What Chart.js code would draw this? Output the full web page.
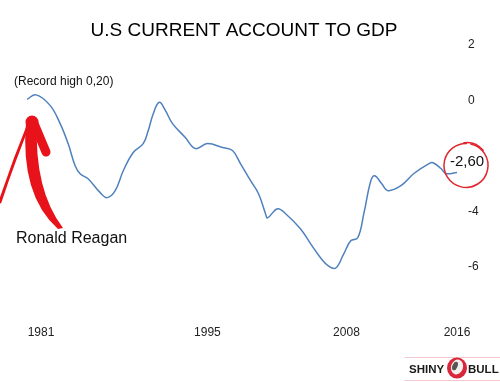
<!DOCTYPE html>
<html>
<head>
<meta charset="utf-8">
<script src="https://cdn.jsdelivr.net/npm/chart.js@4.4.1/dist/chart.umd.min.js"></script>
<style>
  html, body { margin: 0; padding: 0; background: #ffffff; }
  #wrap { width: 500px; height: 382px; position: relative; }
</style>
</head>
<body>
<div id="wrap"><canvas id="c"></canvas></div>
<script>
// ---- data ----
const years = [1979.82, 1980.58, 1981.76, 1982.60, 1983.28, 1983.87, 1984.29, 1984.96, 1985.98, 1986.57,
  1987.24, 1987.92, 1988.76, 1989.60, 1990.02, 1990.45, 1990.95, 1991.46, 1992.05, 1993.14,
  1993.99, 1995.00, 1996.27, 1997.11, 1997.78, 1998.63, 1999.30, 1999.89, 2000.06, 2000.90,
  2001.58, 2002.84, 2003.69, 2004.53, 2005.20, 2005.80, 2006.47, 2007.06, 2007.65, 2008.16,
  2008.75, 2009.08, 2009.67, 2010.18, 2011.28, 2012.37, 2013.64, 2013.98, 2014.65, 2015.07, 2016.00];
const currentAccountPctGDP = [0.04, 0.20, -0.18, -0.83, -1.56, -2.36, -2.65, -2.83, -3.33, -3.51,
  -3.26, -2.54, -1.88, -1.56, -1.09, -0.47, -0.07, -0.36, -0.83, -1.34,
  -1.74, -1.56, -1.70, -1.81, -2.28, -2.90, -3.37, -4.09, -4.24, -3.91,
  -4.09, -4.64, -5.18, -5.69, -5.98, -6.05, -5.54, -5.07, -4.96, -4.09,
  -2.90, -2.72, -3.01, -3.26, -3.08, -2.64, -2.28, -2.25, -2.46, -2.64, -2.60];
const xTickLabels = ['1981', '1995', '2008', '2016'];
const xTickAt = [1981, 1995, 2006.7, 2016];   // where each year label sits on the time axis
const yTickValues = [2, 0, -4, -6];           // y labels shown (the -2 label is covered by the callout)
const titleText = 'U.S CURRENT ACCOUNT TO GDP';
const recordLabel = '(Record high 0,20)';
const reaganLabel = 'Ronald Reagan';
const lastLabel = '-2,60';

const FONT = "'Liberation Sans', Arial, Helvetica, sans-serif";

const annotations = {
  id: 'annotations',
  afterDraw(chart) {
    const ctx = chart.ctx;
    const xs = chart.scales.x, ys = chart.scales.y;
    ctx.save();
    // Title
    ctx.fillStyle = '#000';
    ctx.font = '19px ' + FONT;
    ctx.textAlign = 'center';
    ctx.textBaseline = 'middle';
    ctx.fillText(titleText, 244, 30.5);

    // Record high label
    ctx.fillStyle = '#111';
    ctx.font = '12px ' + FONT;
    ctx.textAlign = 'left';
    ctx.fillText(recordLabel, 14, 82);
    // Ronald Reagan
    ctx.font = '16px ' + FONT;
    ctx.fillText(reaganLabel, 16, 239);

    // Red arrow (hand drawn look)
    const red = '#e8121a';
    ctx.fillStyle = red; ctx.strokeStyle = red;
    ctx.lineCap = 'round'; ctx.lineJoin = 'round';
    // left wing
    ctx.lineWidth = 3;
    ctx.beginPath(); ctx.moveTo(30, 121); ctx.quadraticCurveTo(14, 160, 0, 202); ctx.stroke();
    // shaft
    ctx.beginPath();
    ctx.moveTo(26, 122);
    ctx.quadraticCurveTo(20, 195, 58, 229);
    ctx.lineTo(63, 228);
    ctx.quadraticCurveTo(34, 190, 37, 122);
    ctx.closePath(); ctx.fill();
    // right wing
    ctx.lineWidth = 9;
    ctx.beginPath(); ctx.moveTo(33, 121); ctx.lineTo(46, 152); ctx.stroke();
    // tip
    ctx.beginPath(); ctx.arc(32, 122, 6.5, 0, Math.PI * 2); ctx.fill();

    // last value callout anchored to the last data point
    const lx = xs.getPixelForValue(years[years.length - 1]);
    const ly = ys.getPixelForValue(currentAccountPctGDP[currentAccountPctGDP.length - 1]);
    ctx.fillStyle = '#111';
    ctx.font = '15px ' + FONT;
    ctx.textAlign = 'left';
    ctx.fillText(lastLabel, lx - 7, ly - 11);
    ctx.strokeStyle = '#e0262e';
    ctx.lineWidth = 1.5;
    ctx.beginPath();
    ctx.ellipse(lx + 9, ly - 7, 22, 22, 0, -1.35, Math.PI * 2 - 1.55);
    ctx.stroke();
    ctx.beginPath();
    ctx.ellipse(lx + 9.5, ly - 7.5, 21.5, 22.5, 0.2, -1.9, -0.9);
    ctx.stroke();

    // Logo
    ctx.strokeStyle = '#f3c9cf'; ctx.lineWidth = 1;
    ctx.beginPath(); ctx.moveTo(405, 357.5); ctx.lineTo(500, 357.5); ctx.stroke();
    ctx.beginPath(); ctx.moveTo(405, 380.5); ctx.lineTo(500, 380.5); ctx.stroke();
    ctx.fillStyle = '#1a1a1a';
    ctx.font = 'bold 11.5px ' + FONT;
    ctx.textBaseline = 'middle';
    ctx.fillText('SHINY', 409, 370);
    ctx.fillText('BULL', 468, 370);
    ctx.fillStyle = '#d8263a';
    ctx.beginPath(); ctx.ellipse(457, 368, 10, 10.5, 0, 0, Math.PI * 2); ctx.fill();
    ctx.fillStyle = '#f4f0ee';
    ctx.beginPath(); ctx.ellipse(457, 367, 6, 7.5, 0.3, 0, Math.PI * 2); ctx.fill();
    ctx.fillStyle = '#555';
    ctx.beginPath(); ctx.ellipse(455, 366, 2.5, 4.5, 0.4, 0, Math.PI * 2); ctx.fill();
    ctx.restore();
  }
};

new Chart(document.getElementById('c'), {
  type: 'line',
  data: {
    datasets: [{
      data: years.map((x, i) => ({ x, y: currentAccountPctGDP[i] })),
      borderColor: '#4f81bd',
      borderWidth: 1.5,
      pointRadius: 0,
      tension: 0.4,
      fill: false
    }]
  },
  options: {
    responsive: true,
    maintainAspectRatio: false,
    animation: false,
    layout: { padding: { left: 27, right: 0, top: 45, bottom: 39.6 } },
    plugins: {
      legend: { display: false },
      tooltip: { enabled: false },
      title: { display: false }
    },
    scales: {
      x: {
        type: 'linear',
        min: years[0],
        max: 2016,
        grid: { display: false, drawTicks: false },
        border: { display: false },
        afterBuildTicks(scale) { scale.ticks = xTickAt.map(v => ({ value: v })); },
        ticks: {
          autoSkip: false, maxRotation: 0, padding: 3,
          color: '#222', font: { family: FONT, size: 12 },
          callback(value) {
            const i = xTickAt.indexOf(value);
            return i >= 0 ? xTickLabels[i] : '';
          }
        }
      },
      y: {
        position: 'right',
        min: -8, max: 2,
        grid: { display: false, drawTicks: false },
        border: { display: false },
        afterFit(scale) { scale.width = 43; },
        ticks: {
          stepSize: 2, padding: 11,
          color: '#222', font: { family: FONT, size: 12 },
          callback(value) { return yTickValues.includes(value) ? String(value) : ''; }
        }
      }
    }
  },
  plugins: [annotations]
});
</script>
</body>
</html>
